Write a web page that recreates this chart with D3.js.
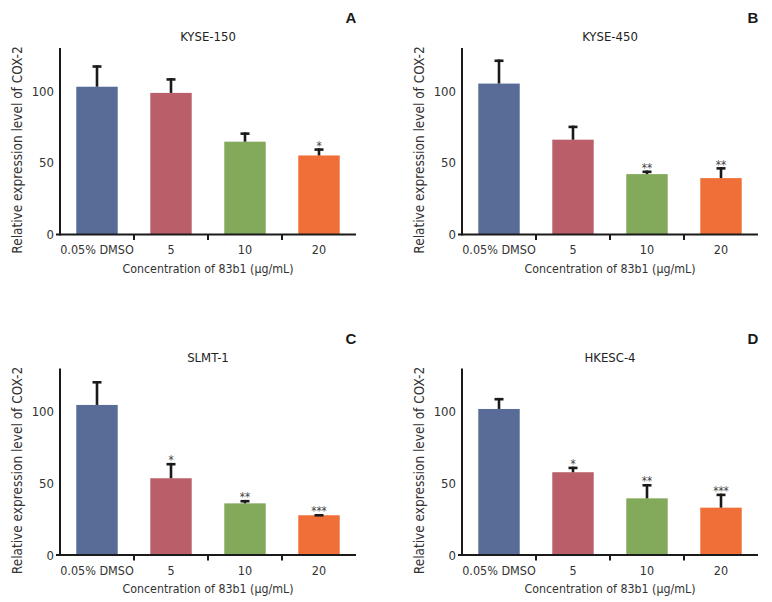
<!DOCTYPE html>
<html>
<head>
<meta charset="utf-8">
<script src="https://cdn.jsdelivr.net/npm/d3@7"></script>
<style>
  html, body { margin: 0; padding: 0; background: #fff; }
  svg { display: block; }
  .nar { font-family: "DejaVu Sans Condensed", "Liberation Sans Narrow", sans-serif; }
</style>
</head>
<body>
<svg id="chart" width="772" height="602"></svg>
<script>
// ---- data ----
const categories = ["0.05% DMSO", "5", "10", "20"];
const panelLetters = ["A", "B", "C", "D"];
const panelTitles = ["KYSE-150", "KYSE-450", "SLMT-1", "HKESC-4"];
const valuesA = [103, 98.7, 64.7, 55.1];
const errorsA = [15, 10.3, 6.5, 5];
const starsA = ["", "", "", "*"];
const valuesB = [105.2, 66.1, 42.1, 39.3];
const errorsB = [16.8, 9.8, 2.5, 7.7];
const starsB = ["", "", "**", "**"];
const valuesC = [104.6, 53.5, 36, 27.7];
const errorsC = [16.7, 10.7, 2.4, 0.9];
const starsC = ["", "*", "**", "***"];
const valuesD = [101.8, 57.7, 39.5, 33];
const errorsD = [7.7, 3.9, 10, 9.8];
const starsD = ["", "*", "**", "***"];
const yTicks = [0, 50, 100];
const yMax = 130;
const yLabel = "Relative expression level of COX-2";
const xLabel = "Concentration of 83b1 (\u00b5g/mL)";
const barColors = ["#596c98", "#ba5f69", "#83a95b", "#f06e37"];

const panels = [
  { values: valuesA, errors: errorsA, stars: starsA },
  { values: valuesB, errors: errorsB, stars: starsB },
  { values: valuesC, errors: errorsC, stars: starsC },
  { values: valuesD, errors: errorsD, stars: starsD }
];

// ---- layout ----
const svg = d3.select("#chart");
const plotW = 296, plotTop = 48, plotBottom = 234.5;
const origins = [
  { x: 60, y: 0 }, { x: 462, y: 0 },
  { x: 60, y: 320.5 }, { x: 462, y: 320.5 }
];

panels.forEach((p, i) => {
  const o = origins[i];
  const g = svg.append("g").attr("transform", `translate(${o.x},${o.y})`);
  const x = d3.scaleBand().domain(categories).range([0, plotW]).padding(0);
  const y = d3.scaleLinear().domain([0, yMax]).range([plotBottom, plotTop]);
  const bw = x.bandwidth() * 0.56;

  // bars
  g.selectAll("rect.bar").data(categories).join("rect")
    .attr("class", "bar")
    .attr("x", d => x(d) + (x.bandwidth() - bw) / 2)
    .attr("width", bw)
    .attr("y", (d, k) => y(p.values[k]))
    .attr("height", (d, k) => y(0) - y(p.values[k]))
    .attr("fill", (d, k) => barColors[k]);

  // error bars
  categories.forEach((c, k) => {
    const cx = x(c) + x.bandwidth() / 2;
    const top = y(p.values[k] + p.errors[k]);
    g.append("line").attr("x1", cx).attr("x2", cx)
      .attr("y1", y(p.values[k])).attr("y2", top)
      .attr("stroke", "#1a1a1a").attr("stroke-width", 2.6);
    g.append("line").attr("x1", cx - 4.5).attr("x2", cx + 4.5)
      .attr("y1", top + 1.3).attr("y2", top + 1.3)
      .attr("stroke", "#1a1a1a").attr("stroke-width", 2.6);
    if (p.stars[k]) {
      g.append("text").attr("class", "nar")
        .attr("x", cx).attr("y", top + 1.5)
        .attr("text-anchor", "middle")
        .attr("font-size", 11.5).attr("fill", "#444")
        .text(p.stars[k]);
    }
  });

  // y axis
  g.append("line").attr("x1", 0).attr("x2", 0).attr("y1", plotTop).attr("y2", plotBottom + 1)
    .attr("stroke", "#1a1a1a").attr("stroke-width", 2);
  g.selectAll("text.yt").data(yTicks).join("text")
    .attr("class", "yt nar")
    .attr("x", -6).attr("y", d => y(d) + 4.6)
    .attr("text-anchor", "end").attr("font-size", 13).attr("fill", "#333")
    .text(d => d);

  // x axis
  g.append("line").attr("x1", -4).attr("x2", plotW).attr("y1", plotBottom).attr("y2", plotBottom)
    .attr("stroke", "#1a1a1a").attr("stroke-width", 2);
  g.selectAll("line.xt").data(categories.slice(1)).join("line")
    .attr("class", "xt")
    .attr("x1", d => x(d)).attr("x2", d => x(d))
    .attr("y1", plotBottom).attr("y2", plotBottom + 5.5)
    .attr("stroke", "#1a1a1a").attr("stroke-width", 2);
  g.selectAll("text.xl").data(categories).join("text")
    .attr("class", "xl nar")
    .attr("x", d => x(d) + x.bandwidth() / 2).attr("y", plotBottom + 19.5)
    .attr("text-anchor", "middle").attr("font-size", 12.5).attr("fill", "#333")
    .text(d => d);

  // axis titles
  g.append("text").attr("class", "nar")
    .attr("x", plotW / 2).attr("y", plotBottom + 38)
    .attr("text-anchor", "middle").attr("font-size", 12.3).attr("fill", "#333")
    .text(xLabel);
  g.append("text").attr("class", "nar")
    .attr("transform", `translate(-38,${plotBottom - 84.5}) rotate(-90)`)
    .attr("text-anchor", "middle").attr("font-size", 13.5).attr("fill", "#333")
    .text(yLabel);

  // chart title
  g.append("text").attr("class", "nar")
    .attr("x", plotW / 2).attr("y", plotTop - 7)
    .attr("text-anchor", "middle").attr("font-size", 13).attr("fill", "#222")
    .text(panelTitles[i]);

  // panel letter
  g.append("text")
    .attr("x", plotW - 5).attr("y", plotTop - 25)
    .attr("text-anchor", "middle")
    .attr("font-family", "Liberation Sans, Arial, sans-serif")
    .attr("font-weight", "bold").attr("font-size", 15).attr("fill", "#1a1a1a")
    .text(panelLetters[i]);
});
</script>
</body>
</html>
